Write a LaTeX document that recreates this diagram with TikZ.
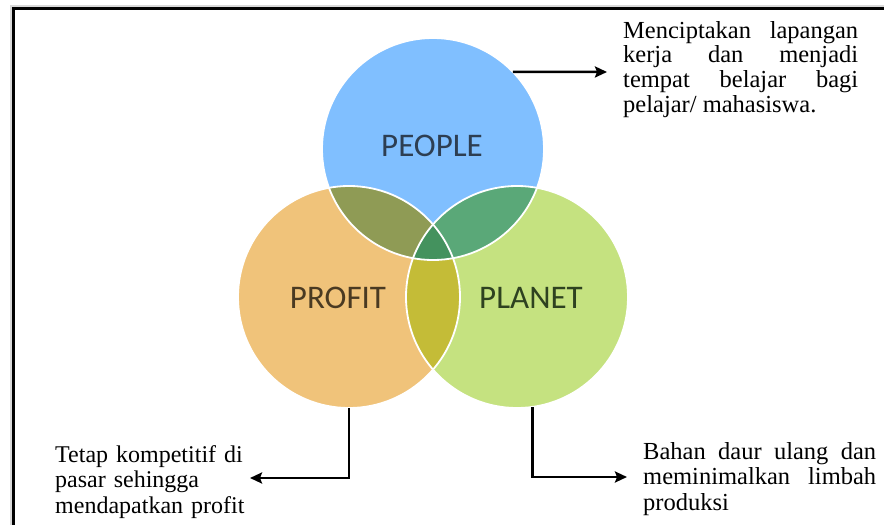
\documentclass[tikz,border=0pt]{standalone}
\usepackage{fontspec}
\setmainfont{Liberation Serif}
\newfontfamily\calibri{Carlito}
\usetikzlibrary{arrows.meta}

\definecolor{biru}{RGB}{128,191,255}
\definecolor{oranye}{RGB}{240,195,122}
\definecolor{hijau}{RGB}{197,226,128}
\definecolor{zaitun}{RGB}{143,155,85}
\definecolor{hijautua}{RGB}{90,168,120}
\definecolor{kuning}{RGB}{196,188,55}
\definecolor{pusat}{RGB}{68,146,94}
\definecolor{teksbiru}{RGB}{45,62,82}
\definecolor{tekscoklat}{RGB}{74,58,34}
\definecolor{tekshijau}{RGB}{46,66,32}

\begin{document}
\begin{tikzpicture}[x=1pt,y=-1pt,>={Stealth[length=12pt,width=11pt,inset=2pt]},node distance=168pt,
  lingkaran/.style={circle,minimum size=222pt,inner sep=0pt},
  judul/.style={font=\calibri\fontsize{33}{33}\selectfont},
  ket/.style={inner sep=0pt,align=justify,anchor=north west,font=\fontsize{24.5}{24.7}\selectfont},
  panah/.style={->,draw=black,line width=2.5pt}]

  \useasboundingbox (0,0) rectangle (884,525);
  \clip (0,0) rectangle (884,525);

  % bingkai
  \draw[black!15,line width=4pt] (12,7) rectangle (900,540);
  \draw[line width=2.5pt] (13.5,8.5) rectangle (900,540);

  % tiga lingkaran
  \node[lingkaran, fill=oranye] (profit) at (349,297) {};
  \node[lingkaran, fill=hijau] (planet) [right of=profit] {};
  \node[lingkaran, fill=biru] (people) at (433,149) {};

  % irisan
  \begin{scope}
    \clip (profit) circle[radius=111pt];
    \fill[kuning] (planet) circle[radius=111pt];
  \end{scope}
  \begin{scope}
    \clip (people) circle[radius=111pt];
    \fill[zaitun] (profit) circle[radius=111pt];
    \fill[hijautua] (planet) circle[radius=111pt];
    \clip (profit) circle[radius=111pt];
    \fill[pusat] (planet) circle[radius=111pt];
  \end{scope}
  \foreach \n in {people,profit,planet}
    \draw[white,line width=1.8pt] (\n) circle[radius=111pt];

  \node[judul, text=teksbiru] (lblpeople) at (432,146) {PEOPLE};
  \node[judul, text=tekscoklat] (lblprofit) at (338,298) {PROFIT};
  \node[judul, text=tekshijau] (lblplanet) at (531,298) {PLANET};

  % keterangan
  \node[ket, text width=235pt] (ketpeople) at (623,21)
    {Menciptakan lapangan\linebreak kerja dan menjadi\linebreak tempat belajar bagi\linebreak pelajar/ mahasiswa.};
  \node[ket, align=left, text width=210pt, font=\fontsize{24}{25.5}\selectfont] (ketprofit) at (55,445)
    {Tetap kompetitif di\\ pasar sehingga\\ mendapatkan profit};
  \node[ket, text width=233pt, font=\fontsize{24.5}{25.5}\selectfont] (ketplanet) at (643,442)
    {Bahan daur ulang dan\linebreak meminimalkan limbah\linebreak produksi};

  \coordinate (ujungpeople) at (607,72);
  \coordinate (ujungprofit) at (250,478);
  \coordinate (ujungplanet) at (627,477);

  \draw[panah] (people.44) -- (ujungpeople);
  \draw[panah] (profit.south) |- (ujungprofit);
  \draw[panah] (planet.-82) |- (ujungplanet);
\end{tikzpicture}
\end{document}
